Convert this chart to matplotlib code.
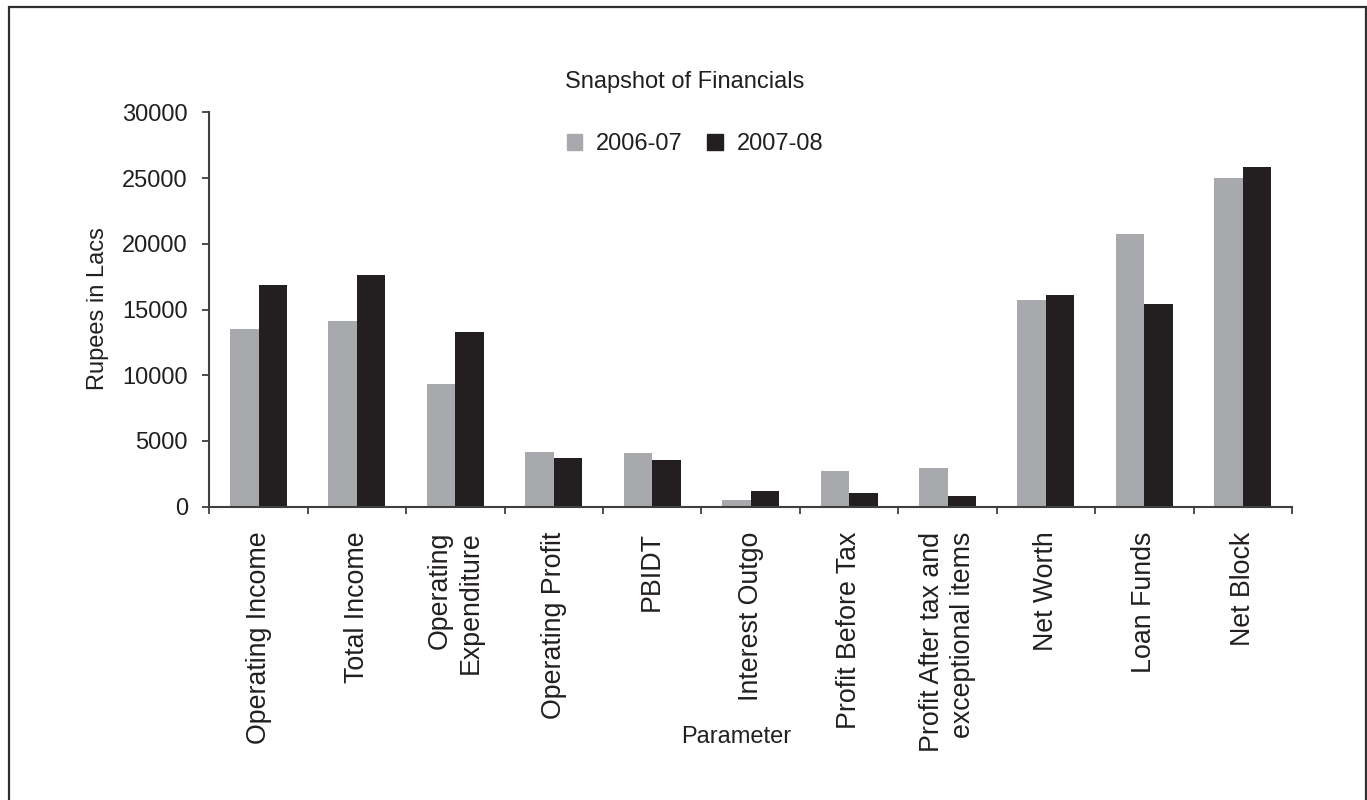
import matplotlib
matplotlib.use("Agg")
import matplotlib.pyplot as plt
import matplotlib.patches as mpatches
import numpy as np

categories = ["Operating Income", "Total Income", "Operating\nExpenditure",
              "Operating Profit", "PBIDT", "Interest Outgo", "Profit Before Tax",
              "Profit After tax and\nexceptional items", "Net Worth", "Loan Funds",
              "Net Block"]
series_names = ["2006-07", "2007-08"]
values_2006_07 = [13500, 14100, 9300, 4150, 4080, 500, 2700, 2950, 15700, 20750, 25000]
values_2007_08 = [16900, 17600, 13300, 3700, 3550, 1200, 1050, 800, 16100, 15400, 25850]
y_ticks = [0, 5000, 10000, 15000, 20000, 25000, 30000]

W, H = 1367, 800
plt.rcParams['font.family'] = ['Liberation Sans', 'DejaVu Sans']
TXT = '#231F20'
GRAY = '#A7A9AC'
BLACK = '#231F20'
AX = '#3F3F41'

fig = plt.figure(figsize=(W / 100, H / 100), dpi=100)
left, right, top, bottom = 209.3, 1292, 112.3, 506.7
ax = fig.add_axes([left / W, 1 - bottom / H, (right - left) / W, (bottom - top) / H])

x = np.arange(len(categories))
bw = 0.29
ax.bar(x - bw / 2, values_2006_07, bw, color=GRAY, label=series_names[0])
ax.bar(x + bw / 2, values_2007_08, bw, color=BLACK, label=series_names[1])

ax.set_xlim(-0.5, len(categories) - 0.5)
ax.set_ylim(0, 30000)
ax.set_yticks(y_ticks)
ax.set_yticklabels([str(v) for v in y_ticks], fontsize=17, color=TXT)
ax.tick_params(axis='y', length=5, width=1.3, color=AX, pad=10.5, direction='out')

ax.set_xticks(np.arange(len(categories) + 1) - 0.5)
ax.set_xticklabels([])
ax.tick_params(axis='x', which='major', length=5, width=1.3, color=AX, direction='out')
ax.set_xticks(x, minor=True)
ax.set_xticklabels(categories, minor=True, rotation=90, fontsize=19.3, color=TXT,
                   va='top', ha='center', multialignment='right', linespacing=1.25)
ax.tick_params(axis='x', which='minor', length=0, pad=18)

for s in ['top', 'right']:
    ax.spines[s].set_visible(False)
for s in ['left', 'bottom']:
    ax.spines[s].set_linewidth(1.5)
    ax.spines[s].set_color(AX)

fig.text(684.5 / W, 1 - 81.7 / H, "Snapshot of Financials", fontsize=17, color=TXT,
         ha='center', va='center')
fig.text(97.7 / W, 1 - 309 / H, "Rupees in Lacs", fontsize=17, color=TXT,
         ha='center', va='center', rotation=90)
fig.text(736 / W, 1 - 737 / H, "Parameter", fontsize=17, color=TXT,
         ha='center', va='center')

handles = [mpatches.Patch(color=GRAY), mpatches.Patch(color=BLACK)]
fig.legend(handles, series_names, loc='center', bbox_to_anchor=(695 / W, 1 - 144.5 / H),
           ncol=2, frameon=False, fontsize=17, handlelength=0.64, handleheight=0.64,
           handletextpad=0.6, columnspacing=1.05, borderpad=0, labelcolor=TXT)

frame = mpatches.Rectangle((8.5 / W, -0.1), (1365.5 - 8.5) / W, 1.1 - 7 / H,
                           transform=fig.transFigure, fill=False, lw=1.6,
                           edgecolor='#2F2F30', clip_on=False)
fig.patches.append(frame)

fig.savefig("out.png", dpi=100)
